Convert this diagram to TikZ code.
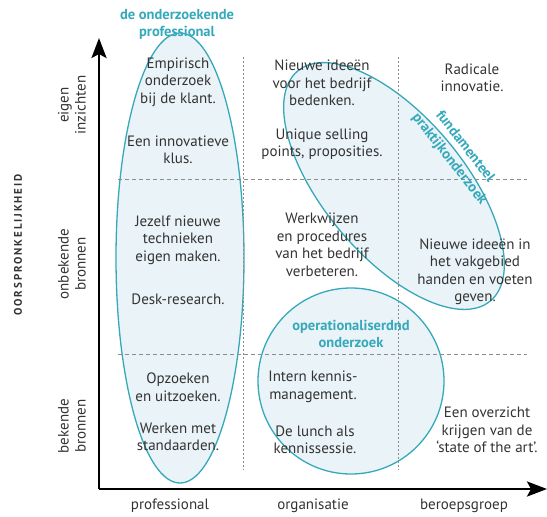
\documentclass[tikz,border=0pt]{standalone}
\usepackage{fontspec}
\setmainfont{PT Sans}
\usetikzlibrary{arrows.meta}
\definecolor{tekst}{HTML}{333333}
\definecolor{petrol}{HTML}{35A9BB}
\definecolor{vulling}{HTML}{EAF3F7}
\begin{document}
\begin{tikzpicture}[x=1pt, y=-1pt, line join=round,
    cel/.style={align=center, text=tekst, font=\fontsize{15}{17.5}\selectfont},
    as/.style={text=tekst, font=\fontsize{15}{17}\selectfont},
    groep/.style={align=center, text=petrol, font=\bfseries\fontsize{14.5}{17}\selectfont},
    ovaal/.style={draw=petrol, line width=1.3pt, fill=vulling},
    raster/.style={draw=gray!90, line width=0.6pt}]
  \useasboundingbox (0,0) rectangle (547,517);
  \def\xa{99} \def\ya{489} \def\xb{243} \def\xc{398} \def\yb{179} \def\yc{354};
  % ovalen
  \draw[ovaal] (180,258) ellipse (64 and 225);
  \draw[ovaal] (351,381) circle (93);
  \draw[ovaal, rotate around={-50:(394,186)}] (394,186) ellipse (150 and 70);
  % raster
  \draw[raster, dash pattern=on 4pt off 3pt] (118,\yb) -- (527,\yb) (118,\yc) -- (527,\yc);
  \draw[raster, dash pattern=on 2pt off 2pt] (\xb,57) -- (\xb,470) (\xc,57) -- (\xc,470);
  % assen
  \coordinate (O) at (\xa,\ya);
  \coordinate (Y) at (\xa,38);
  \coordinate (X) at (547,\ya);
  \draw[line width=2.6pt, -{Stealth[length=20pt, width=15pt, inset=4pt]}] (O) -- (Y);
  \draw[line width=2.6pt, -{Stealth[length=20pt, width=15pt, inset=4pt]}] (O) -- (X);
  % kolom professional
  \node[cel] (emp) at (178,82) {Empirisch\\onderzoek\\bij de klant.};
  \node[cel] (klus) at (178,150) {Een innovatieve\\klus.};
  \node[cel] (jezelf) at (178,240) {Jezelf nieuwe\\technieken\\eigen maken.};
  \node[cel] (desk) at (178,299) {Desk-research.};
  \node[cel] (opzoek) at (178,387) {Opzoeken\\en uitzoeken.};
  \node[cel] (standaard) at (178,437) {Werken met\\standaarden.};
  % kolom organisatie
  \node[cel] (ideeen) at (322,83) {Nieuwe ideeën\\voor het bedrijf\\bedenken.};
  \node[cel] (usp) at (322,144) {Unique selling\\points, proposities.};
  \node[cel] (werkwijze) at (322,245) {Werkwijzen\\en procedures\\van het bedrijf\\verbeteren.};
  \node[cel] (intern) at (313,387) {Intern kennis-\\management.};
  \node[cel] (lunch) at (315,440) {De lunch als\\kennissessie.};
  % kolom beroepsgroep
  \node[cel] (radicaal) at (472,78) {Radicale\\innovatie.};
  \node[cel] (vakgebied) at (475,272) {Nieuwe ideeën in\\het vakgebied\\handen en voeten\\geven.};
  \node[cel] (overzicht) at (487,430) {Een overzicht\\krijgen van de\\‘state of the art’.};
  % groepen
  \node[groep] (onderzoekend) at (177,24) {de onderzoekende\\professional};
  \node[groep] (operationeel) at (351,334) {operationaliserdnd\\onderzoek};
  \node[groep, rotate=-52] (fundamenteel) at (457,153) {fundamenteel\\[3pt]praktijkonderzoek};
  % aslabels
  \node[as] (prof) at (170,506) {professional};
  \node[as] (org) at (313,506) {organisatie};
  \node[as] (beroep) at (464,506) {beroepsgroep};
  \node[as, align=center, rotate=90] (eigen) at (72,105) {eigen\\inzichten};
  \node[as, align=center, rotate=90] (onbekend) at (72,264) {onbekende\\bronnen};
  \node[as, align=center, rotate=90] (bekend) at (72,426) {bekende\\bronnen};
  \node[text=tekst, font=\bfseries\fontsize{11}{12}\selectfont, rotate=90] (oorspr) at (18,245) {O\,O\,R\,S\,P\,R\,O\,N\,K\,E\,L\,I\,J\,K\,H\,E\,I\,D};
\end{tikzpicture}
\end{document}
